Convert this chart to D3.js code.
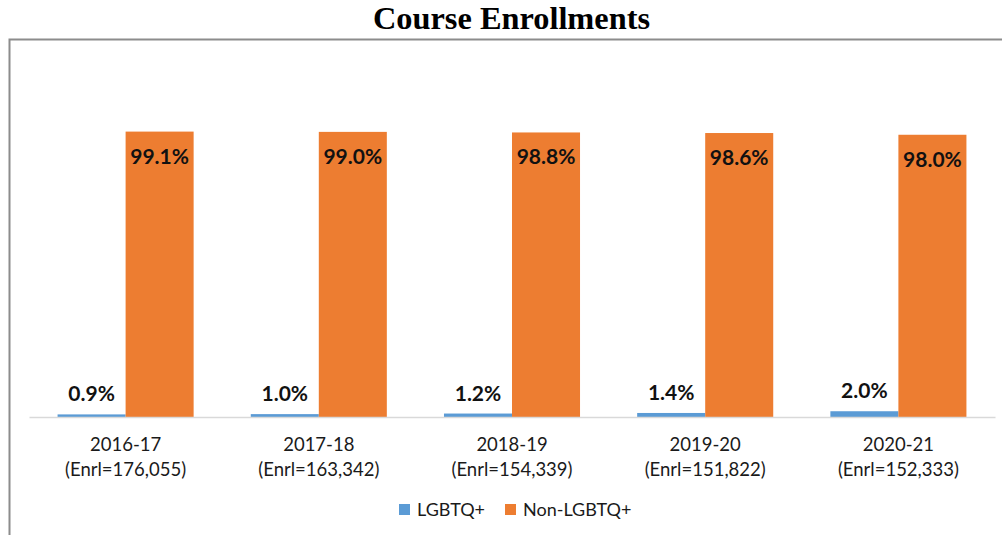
<!DOCTYPE html>
<html>
<head>
<meta charset="utf-8">
<script src="https://cdn.jsdelivr.net/npm/d3@7"></script>
<style>
  body { margin: 0; background: #fff; }
  svg { display: block; }
</style>
</head>
<body>
<script>
// Chart data
const years = ["2016-17", "2017-18", "2018-19", "2019-20", "2020-21"];
const enrollments = ["176,055", "163,342", "154,339", "151,822", "152,333"];
const lgbtq = [0.9, 1.0, 1.2, 1.4, 2.0];
const nonLgbtq = [99.1, 99.0, 98.8, 98.6, 98.0];
const seriesNames = ["LGBTQ+", "Non-LGBTQ+"];
const colors = ["#5B9BD5", "#ED7D31"];

const W = 1002, H = 535;
const margin = { top: 129, right: 7, bottom: 118, left: 29 };
const innerW = W - margin.left - margin.right;
const innerH = H - margin.top - margin.bottom;

const svg = d3.select("body").append("svg")
  .attr("width", W)
  .attr("height", H);

// Outer frame (top, left, right edges)
svg.append("path")
  .attr("d", `M9.5,${H} V39.5 H${W} `)
  .attr("fill", "none")
  .attr("stroke", "#8c8c8c")
  .attr("stroke-width", 2);

// Title
svg.append("text")
  .attr("x", 511.5)
  .attr("y", 29)
  .attr("text-anchor", "middle")
  .style("font-family", "'Liberation Serif', 'Times New Roman', serif")
  .style("font-weight", "bold")
  .style("font-size", "31px")
  .attr("textLength", 277)
  .attr("lengthAdjust", "spacingAndGlyphs")
  .attr("fill", "#000")
  .text("Course Enrollments");

const g = svg.append("g")
  .attr("transform", `translate(${margin.left},${margin.top})`);

// Scales
const x0 = d3.scaleBand()
  .domain(years)
  .range([0, innerW])
  .padding(0);

const x1 = d3.scaleBand()
  .domain(seriesNames)
  .range([0, x0.bandwidth()])
  .paddingInner(0)
  .paddingOuter(0.42);

const y = d3.scaleLinear()
  .domain([0, 100])
  .range([innerH, 0]);

const rows = years.map((yr, i) => ({
  yr,
  values: [
    { key: seriesNames[0], v: lgbtq[i] },
    { key: seriesNames[1], v: nonLgbtq[i] }
  ]
}));

// Bars
const groups = g.selectAll("g.grp")
  .data(rows)
  .enter()
  .append("g")
  .attr("class", "grp")
  .attr("transform", d => `translate(${x0(d.yr)},0)`);

groups.selectAll("rect")
  .data(d => d.values)
  .enter()
  .append("rect")
  .attr("x", d => x1(d.key))
  .attr("y", d => y(d.v))
  .attr("width", x1.bandwidth())
  .attr("height", d => innerH - y(d.v))
  .attr("fill", (d, i) => colors[i]);

// Value labels: small series above bar, large series inside the top
groups.selectAll("text.val")
  .data(d => d.values)
  .enter()
  .append("text")
  .attr("class", "val")
  .attr("x", d => x1(d.key) + x1.bandwidth() / 2)
  .attr("y", (d, i) => i === 0 ? y(d.v) - 13 : y(d.v) + 32)
  .attr("text-anchor", "middle")
  .style("font-family", "Lato, 'Open Sans', sans-serif")
  .style("font-weight", "bold")
  .style("font-size", "21px")
  .attr("fill", "#111")
  .text(d => d.v.toFixed(1) + "%");

// X axis
const xAxis = d3.axisBottom(x0).tickSize(0).tickPadding(0).tickFormat("");
const axisG = g.append("g")
  .attr("transform", `translate(0,${innerH})`)
  .call(xAxis);
axisG.select(".domain")
  .attr("stroke", "#d9d9d9")
  .attr("stroke-width", 1.5);

axisG.selectAll(".tick").each(function(d, i) {
  const t = d3.select(this).append("text")
    .attr("fill", "#1a1a1a")
    .attr("text-anchor", "middle")
    .style("font-family", "Lato, 'Open Sans', sans-serif")
    .style("font-size", "18.5px");
  t.append("tspan").attr("x", 0).attr("y", 34).text(years[i]);
  t.append("tspan").attr("x", 0).attr("y", 59).text(`(Enrl=${enrollments[i]})`);
});

// Legend
const legendItems = [
  { name: seriesNames[0], color: colors[0], x: 399 },
  { name: seriesNames[1], color: colors[1], x: 505 }
];
const legend = svg.append("g");
legendItems.forEach(item => {
  legend.append("rect")
    .attr("x", item.x)
    .attr("y", 504)
    .attr("width", 11)
    .attr("height", 11)
    .attr("fill", item.color);
  legend.append("text")
    .attr("x", item.x + 18)
    .attr("y", 516)
    .style("font-family", "Lato, 'Open Sans', sans-serif")
    .style("font-size", "18px")
    .attr("fill", "#1a1a1a")
    .text(item.name);
});
</script>
</body>
</html>
